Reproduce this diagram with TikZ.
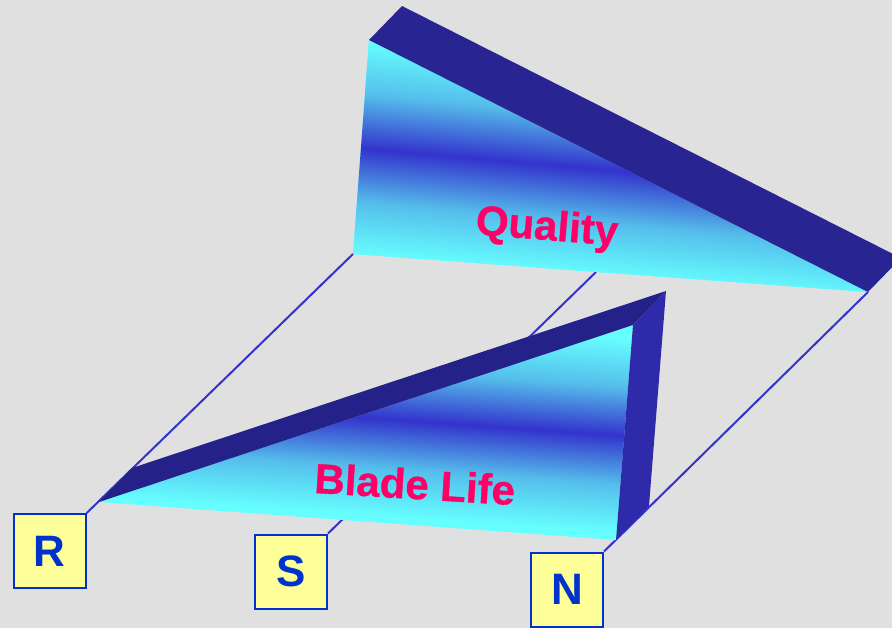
\documentclass[tikz,border=0pt]{standalone}
\usepackage{fontspec}
\setmainfont{Liberation Sans}[BoldFont=Liberation Sans Bold]
\newfontfamily\labelfont{Liberation Sans Bold}[FakeBold=0.8]
\definecolor{bgc}{HTML}{E0E0E0}
\definecolor{cy}{HTML}{66FFFF}
\definecolor{midc}{HTML}{55BEEB}
\definecolor{bl}{HTML}{3333CC}
\definecolor{bandq}{HTML}{282491}
\definecolor{bandtop}{HTML}{242288}
\definecolor{bandside}{HTML}{2E2AAA}
\definecolor{linec}{HTML}{3333CC}
\definecolor{boxfill}{HTML}{FFFF99}
\definecolor{boxline}{HTML}{0033CC}
\definecolor{labelc}{HTML}{FF0066}
\pgfdeclareverticalshading{facesh}{100bp}{color(0bp)=(cy); color(25bp)=(cy); color(37.5bp)=(midc); color(50bp)=(bl); color(62.5bp)=(midc); color(75bp)=(cy); color(100bp)=(cy)}
\pgfdeclarelayer{bgl}
\pgfdeclarelayer{back}
\pgfsetlayers{bgl,back,main}
\begin{document}
\begin{tikzpicture}[x=1pt,y=-1pt,
  keybox/.style={draw=boxline, line width=2pt, fill=boxfill, minimum width=72pt, minimum height=74pt, inner sep=0pt, font=\fontsize{44}{44}\selectfont\bfseries, text=boxline},
  conn/.style={draw=linec, line width=2pt},
  facelabel/.style={font=\fontsize{42}{42}\labelfont, text=labelc, inner sep=0pt},
  faceshade/.style={shading=facesh}]
\useasboundingbox (0,0) rectangle (892,628);
\begin{pgfonlayer}{bgl}
\fill[bgc] (0,0) rectangle (892,628);
\end{pgfonlayer}
\clip (0,0) rectangle (892,628);
% vertices
\coordinate (qA) at (369,40);
\coordinate (qB) at (353,254);
\coordinate (qC) at (868,292);
\coordinate (qA2) at (402,6);
\coordinate (qC2) at (901,258);
\coordinate (bL) at (99,502);
\coordinate (bL2) at (132,468);
\coordinate (bT) at (633,325);
\coordinate (bT2) at (666,291);
\coordinate (bB) at (616,540);
\coordinate (bB2) at (649,506);
\coordinate (sEnd) at (596,272);
% Quality face
\fill[cy] (qA) -- (qB) -- (qC) -- cycle;
\begin{scope}
  \clip (qA) -- (qB) -- (qC) -- cycle;
  \begin{scope}[transform canvas={rotate around={-5:(610,170)}}]
    \shade[faceshade] (180,62) rectangle (1040,278);
  \end{scope}
\end{scope}
\fill[bandq] (qA) -- (qA2) -- (qC2) -- (qC) -- cycle;
% Blade Life face
\fill[cy] (bL) -- (bT) -- (bB) -- cycle;
\begin{scope}
  \clip (bL) -- (bT) -- (bB) -- cycle;
  \begin{scope}[transform canvas={rotate around={-4:(400,420)}}]
    \shade[faceshade] (0,322) rectangle (800,518);
  \end{scope}
\end{scope}
\fill[bandtop] (bL) -- (bL2) -- (bT2) -- (bT) -- cycle;
\fill[bandside] (bT) -- (bT2) -- (bB2) -- (bB) -- cycle;
% labels
\node[facelabel, anchor=base, rotate=-4.5] (ql) at (546,240) {Quality};
\node[facelabel, anchor=base, rotate=-3.5] (bll) at (414,499) {Blade Life};
% boxes
\node[keybox] (R) at (49.7,551) {R};
\node[keybox] (S) at (291,571.5) {S};
\node[keybox] (N) at (567,589.5) {N};
% connectors
\begin{pgfonlayer}{back}
\draw[conn] (R.north east) -- (qB);
\draw[conn] (S.north east) -- (sEnd);
\draw[conn] (N.north east) -- (qC);
\end{pgfonlayer}
\end{tikzpicture}
\end{document}
